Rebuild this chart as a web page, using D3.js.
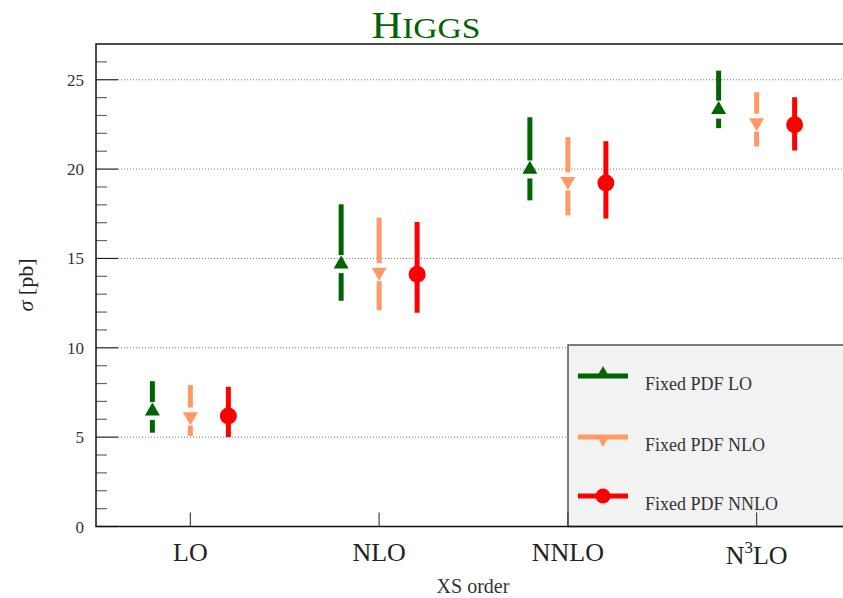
<!DOCTYPE html>
<html>
<head>
<meta charset="utf-8">
<script src="https://cdn.jsdelivr.net/npm/d3@7"></script>
<style>
  body { margin: 0; background: white; }
  svg { display: block; font-family: "Liberation Serif", "DejaVu Serif", serif; }
</style>
</head>
<body>
<svg id="chart" width="843" height="598"></svg>
<script>
//Data
var orders = ["LO", "NLO", "NNLO", "N3LO"];
var seriesNames = ["Fixed PDF LO", "Fixed PDF NLO", "Fixed PDF NNLO"];
var centralLO   = [6.46, 14.68, 19.98, 23.33];
var upLO        = [8.13, 18.03, 22.90, 25.51];
var downLO      = [5.25, 12.63, 18.25, 22.29];
var centralNLO  = [6.15, 14.23, 19.31, 22.60];
var upNLO       = [7.92, 17.28, 21.79, 24.30];
var downNLO     = [5.07, 12.10, 17.41, 21.27];
var centralNNLO = [6.18, 14.12, 19.22, 22.48];
var upNNLO      = [7.82, 17.04, 21.56, 24.02];
var downNNLO    = [5.01, 11.96, 17.23, 21.04];
var yTicks = [0, 5, 10, 15, 20, 25];

var colors = ["#006400", "#ff9966", "#ff0000"];
var markers = ["up", "down", "circle"];
var offsets = [-38, 0, 38];

var series = [
    { name: seriesNames[0], c: centralLO, up: upLO, down: downLO },
    { name: seriesNames[1], c: centralNLO, up: upNLO, down: downNLO },
    { name: seriesNames[2], c: centralNNLO, up: upNNLO, down: downNNLO }
];

//Dimensions
var dimensions = {
    width: 843,
    height: 598,
    margin: { top: 44, bottom: 71.5, left: 96, right: -8 }
};

var svg = d3.select("#chart");

//Scales
var xScale = d3.scaleBand()
               .domain(orders)
               .range([dimensions.margin.left, dimensions.width - dimensions.margin.right]);

var yScale = d3.scaleLinear()
               .domain([0, 27])
               .range([dimensions.height - dimensions.margin.bottom, dimensions.margin.top]);

var x0 = dimensions.margin.left;
var y0 = yScale(0);

//Gridlines
svg.append("g")
   .selectAll("line")
   .data(yTicks.filter(function(d){ return d > 0; }))
   .enter()
   .append("line")
   .attr("x1", x0 + 22)
   .attr("x2", dimensions.width)
   .attr("y1", function(d){ return yScale(d); })
   .attr("y2", function(d){ return yScale(d); })
   .style("stroke", "#777")
   .style("stroke-width", 1)
   .style("stroke-dasharray", "1,2");

//Minor ticks
svg.append("g")
   .selectAll("line")
   .data(d3.range(1, 27).filter(function(d){ return d % 5 !== 0; }))
   .enter()
   .append("line")
   .attr("x1", x0)
   .attr("x2", x0 + 11)
   .attr("y1", function(d){ return yScale(d); })
   .attr("y2", function(d){ return yScale(d); })
   .style("stroke", "#666")
   .style("stroke-width", 1.2);

//Major ticks
svg.append("g")
   .selectAll("line")
   .data(yTicks)
   .enter()
   .append("line")
   .attr("x1", x0)
   .attr("x2", x0 + 22)
   .attr("y1", function(d){ return yScale(d); })
   .attr("y2", function(d){ return yScale(d); })
   .style("stroke", "#222")
   .style("stroke-width", 1.2);

//Y tick labels
svg.append("g")
   .selectAll("text")
   .data(yTicks)
   .enter()
   .append("text")
   .attr("x", x0 - 12)
   .attr("y", function(d){ return yScale(d) + 6; })
   .attr("text-anchor", "end")
   .style("font-size", "17px")
   .style("fill", "#333")
   .text(function(d){ return d; });

//Legend box
var leg = svg.append("g");
leg.append("rect")
   .attr("x", 568)
   .attr("y", 345)
   .attr("width", 290)
   .attr("height", y0 - 345)
   .style("fill", "#f2f2f2")
   .style("stroke", "#555")
   .style("stroke-width", 1.5);

//Frame
svg.append("path")
   .attr("d", "M" + dimensions.width + "," + dimensions.margin.top +
              "H" + x0 + "V" + y0 + "H" + dimensions.width)
   .style("fill", "none")
   .style("stroke", "#111")
   .style("stroke-width", 1.5);

//X ticks
svg.append("g")
   .selectAll("line")
   .data(orders)
   .enter()
   .append("line")
   .attr("x1", function(d){ return xScale(d) + xScale.bandwidth() / 2; })
   .attr("x2", function(d){ return xScale(d) + xScale.bandwidth() / 2; })
   .attr("y1", y0)
   .attr("y2", y0 - 14)
   .style("stroke", "#444")
   .style("stroke-width", 1.2);

//X labels
var xl = svg.append("g")
   .selectAll("text")
   .data(orders)
   .enter()
   .append("text")
   .attr("x", function(d){ return xScale(d) + xScale.bandwidth() / 2; })
   .attr("y", 561)
   .attr("text-anchor", "middle")
   .style("font-size", "26px")
   .style("fill", "#222");
xl.each(function(d){
    var t = d3.select(this);
    if (d === "N3LO") {
        t.attr("y", 564);
        t.append("tspan").text("N");
        t.append("tspan").attr("dy", -11).style("font-size", "17px").text("3");
        t.append("tspan").attr("dy", 11).text("LO");
    } else {
        t.text(d);
    }
});

//Marker shapes
function drawMarker(g, type, x, y, color, s) {
    if (type === "circle") {
        g.append("circle").attr("cx", x).attr("cy", y).attr("r", s / 2).style("fill", color);
    } else {
        var sym = d3.symbol().type(d3.symbolTriangle).size(s * s * 0.433);
        g.append("path")
         .attr("d", sym())
         .attr("transform", "translate(" + x + "," + y + ")" + (type === "down" ? " rotate(180)" : ""))
         .style("fill", color);
    }
}

//Error bars and markers
series.forEach(function(s, i){
    var g = svg.append("g");
    orders.forEach(function(o, j){
        var cx = xScale(o) + xScale.bandwidth() / 2 + offsets[i];
        var cy = yScale(s.c[j]);
        var gap = markers[i] === "circle" ? 0 : 9;
        g.append("line")
         .attr("x1", cx).attr("x2", cx)
         .attr("y1", yScale(s.up[j])).attr("y2", cy - gap)
         .style("stroke", colors[i]).style("stroke-width", 5);
        g.append("line")
         .attr("x1", cx).attr("x2", cx)
         .attr("y1", cy + gap).attr("y2", yScale(s.down[j]))
         .style("stroke", colors[i]).style("stroke-width", 5);
        drawMarker(g, markers[i], cx, cy, colors[i], markers[i] === "circle" ? 17 : 15);
    });
});

//Legend entries
var legY = [376, 437, 496];
series.forEach(function(s, i){
    leg.append("line")
       .attr("x1", 578).attr("x2", 628)
       .attr("y1", legY[i]).attr("y2", legY[i])
       .style("stroke", colors[i]).style("stroke-width", 5);
    var my = markers[i] === "up" ? legY[i] - 3 : (markers[i] === "down" ? legY[i] + 3 : legY[i]);
    drawMarker(leg, markers[i], 603, my, colors[i], markers[i] === "circle" ? 15 : 12);
    leg.append("text")
       .attr("x", 645)
       .attr("y", legY[i] + 14)
       .style("font-size", "18px")
       .style("fill", "#333")
       .text(s.name);
});

//Title
var title = svg.append("text")
   .attr("x", 426)
   .attr("y", 38)
   .attr("text-anchor", "middle")
   .attr("textLength", 109)
   .attr("lengthAdjust", "spacingAndGlyphs")
   .style("font-size", "38px")
   .style("fill", "#006400");
title.append("tspan").text("H");
title.append("tspan").style("font-size", "30px").text("IGGS");

//Y-axis title
var yt = svg.append("text")
   .attr("transform", "translate(33,285) rotate(-90)")
   .attr("text-anchor", "middle")
   .style("font-size", "22px")
   .style("fill", "#222");
yt.append("tspan").style("font-style", "italic").text("σ");
yt.append("tspan").text(" [pb]");

//X-axis title
svg.append("text")
   .attr("x", 473)
   .attr("y", 593)
   .attr("text-anchor", "middle")
   .style("font-size", "20px")
   .style("fill", "#333")
   .text("XS order");
</script>
</body>
</html>
